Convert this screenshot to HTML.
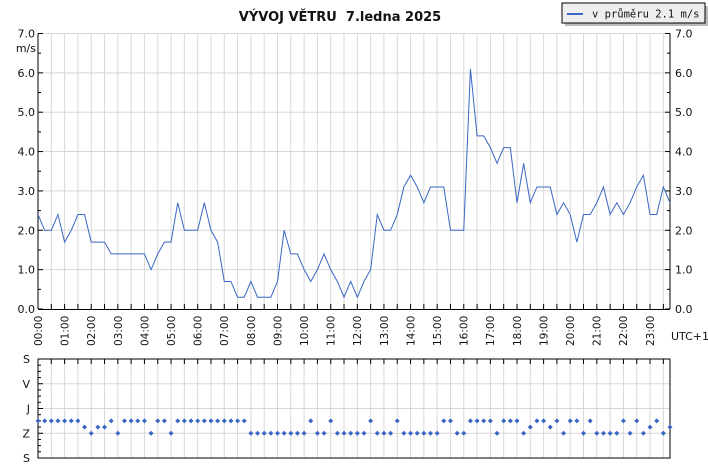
<!DOCTYPE html>
<html><head><meta charset="utf-8"><style>
html,body{margin:0;padding:0;background:#fff;width:708px;height:468px;overflow:hidden}
svg{display:block;font-family:"DejaVu Sans","Liberation Sans",sans-serif}
</style></head><body>
<svg id="s" width="708" height="468" xmlns="http://www.w3.org/2000/svg">
<text x="340" y="21" text-anchor="middle" font-size="13" font-weight="bold" fill="#111">VÝVOJ VĚTRU &#160;7.ledna 2025</text>
<rect x="565" y="6" width="143" height="20" fill="#bbb"/>
<rect x="562" y="3" width="143" height="20" fill="#eee" stroke="#000" stroke-width="1"/>
<line x1="567" y1="14" x2="583" y2="14" stroke="#3a66c4" stroke-width="2"/>
<text x="592" y="17.5" font-family="DejaVu Sans Mono,Liberation Mono,monospace" font-size="10.5" fill="#111">v průměru 2.1 m/s</text>
<g id="g"></g>
</svg>
<script>
var g=document.getElementById('g'),h='';
var X0=38,X1=670,Y0=309,K=39.36;
function L(a,b,c,d,col,w){h+='<line x1="'+a+'" y1="'+b+'" x2="'+c+'" y2="'+d+'" stroke="'+col+'" stroke-width="'+(w||1)+'"/>';}
function T(x,y,t,anc,extra){h+='<text x="'+x+'" y="'+y+'" font-size="11" fill="#111" text-anchor="'+(anc||'start')+'" '+(extra||'')+'>'+t+'</text>';}
for(var i=1;i<=47;i++){var x=X0+i*632/47.5;L(x,33.5,x,Y0,'#d8d8d8');L(x,Y0,x,Y0-5,'#000');}
for(var v=1;v<=7;v++){var y=Y0-v*K;L(X0,y,X1,y,'#d8d8d8');}
for(var v=0;v<=14;v++){var y=Y0-v*K/2;var len=v%2?3:5;L(X0,y,X0+len,y,'#000');L(X1,y,X1-len,y,'#000');}
L(X0,33.5,X0,Y0,'#000');L(X1,33.5,X1,Y0,'#000');L(X0,Y0+0.5,X1,Y0+0.5,'#000');
for(var v=0;v<=7;v++){var y=Y0-v*K+4;T(35,y,v+'.0','end');T(675,y,v+'.0','start');}
T(36,52,'m/s','end','font-size="10"');
for(var hr=0;hr<24;hr++){var x=X0+hr*26.6;var s=(hr<10?'0':'')+hr+':00';h+='<text transform="translate('+(x+4)+',346) rotate(-90)" font-size="10.5" fill="#111">'+s+'</text>';}
T(671,340,'UTC+1','start','font-size="10"');
var d=[2.4,2.0,2.0,2.4,1.7,2.0,2.4,2.4,1.7,1.7,1.7,1.4,1.4,1.4,1.4,1.4,1.4,1.0,1.4,1.7,1.7,2.7,2.0,2.0,2.0,2.7,2.0,1.7,0.7,0.7,0.3,0.3,0.7,0.3,0.3,0.3,0.7,2.0,1.4,1.4,1.0,0.7,1.0,1.4,1.0,0.7,0.3,0.7,0.3,0.7,1.0,2.4,2.0,2.0,2.4,3.1,3.4,3.1,2.7,3.1,3.1,3.1,2.0,2.0,2.0,6.1,4.4,4.4,4.1,3.7,4.1,4.1,2.7,3.7,2.7,3.1,3.1,3.1,2.4,2.7,2.4,1.7,2.4,2.4,2.7,3.1,2.4,2.7,2.4,2.7,3.1,3.4,2.4,2.4,3.1,2.7];
var st=632/95,p='';
for(var i=0;i<d.length;i++){p+=(i?'L':'M')+(X0+i*st).toFixed(2)+','+(Y0-d[i]*K).toFixed(2);}
h+='<path d="'+p+'" fill="none" stroke="#3a66c4" stroke-width="1"/>';
var B0=359,B1=458,U=(B1-B0)/4;
for(var i=1;i<=47;i++){var x=X0+i*632/47.5;L(x,B0,x,B1,'#d8d8d8');L(x,B0,x,B0+5,'#000');}
for(var k=1;k<=3;k++){var y=B0+k*U;L(X0,y,X1,y,'#d8d8d8');}
for(var k=0;k<=16;k++){var y=B0+k*U/4;L(X0,y,X0+(k%4?3:5),y,'#000');}
h+='<rect x="'+X0+'" y="'+B0+'" width="'+(X1-X0)+'" height="'+(B1-B0)+'" fill="none" stroke="#000"/>';
var lab=['S','V','J','Z','S'];
for(var k=0;k<5;k++)T(30,B0+k*U+4,lab[k],'end','font-size="10.5"');
var s='AAAAAAABCBBACAAAACAACAAAAAAAAAAACCCCCCCCCACCACCCCCACCCACCCCCCAACCAAAACAAACBAABACAACACCCCACACBACB';
var lv={A:B0+2.5*U,B:B0+2.75*U,C:B0+3*U};
for(var i=0;i<96;i++){var x=X0+i*st,y=lv[s[i]];h+='<path d="M'+(x-2.5)+','+y+'L'+x+','+(y-2.5)+'L'+(x+2.5)+','+y+'L'+x+','+(y+2.5)+'Z" fill="#3a66c4"/>';}
g.innerHTML=h;
</script>
</body></html>
